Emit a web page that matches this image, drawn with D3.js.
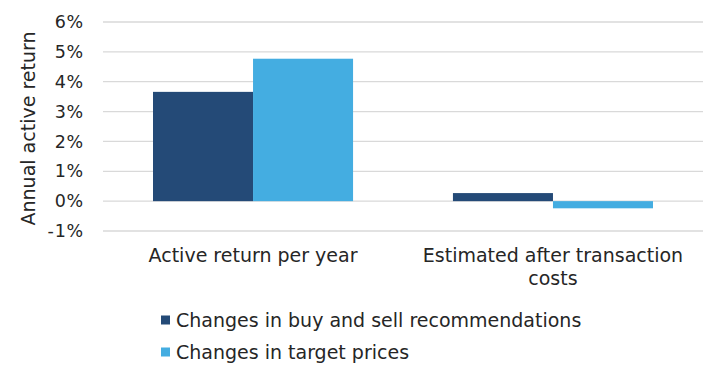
<!DOCTYPE html>
<html lang="en">
<head>
    <meta charset="UTF-8">
    <title>Annual active return</title>
    <script src="https://d3js.org/d3.v7.min.js"></script>
    <style>
        body { margin: 0; background: #fff; }
        svg { font-family: "DejaVu Sans", Verdana, sans-serif; }
        .grid line { stroke: #d9d9d9; stroke-width: 1.3; }
    </style>
</head>
<body>
    <svg width="718" height="372"></svg>

    <script>
        // Chart data
        const categories = ["Active return per year", "Estimated after transaction costs"];
        const seriesNames = ["Changes in buy and sell recommendations", "Changes in target prices"];
        const buySell = [3.66, 0.27];
        const targetPrices = [4.77, -0.24];
        const yTicks = [-1, 0, 1, 2, 3, 4, 5, 6];
        const colors = ["#244a77", "#44ade1"];

        const svg = d3.select("svg");
        const plot = { left: 103, right: 703, top: 22, bottom: 231 };
        const textColor = "#262626";

        const x0 = d3.scaleBand().domain(categories).range([plot.left, plot.right]).paddingInner(0.333).paddingOuter(0.1667);
        const x1 = d3.scaleBand().domain(seriesNames).range([0, x0.bandwidth()]);
        const y = d3.scaleLinear().domain([-1, 6]).range([plot.bottom, plot.top]);

        // Gridlines
        svg.append("g").attr("class", "grid")
            .selectAll("line").data(yTicks).join("line")
            .attr("x1", plot.left).attr("x2", plot.right)
            .attr("y1", d => y(d)).attr("y2", d => y(d));

        // Y axis labels
        const yAxis = svg.append("g")
            .attr("transform", `translate(${plot.left},0)`)
            .call(d3.axisLeft(y).tickValues(yTicks).tickFormat(d => d + "%").tickSize(0).tickPadding(19));
        yAxis.select(".domain").remove();
        yAxis.selectAll("text")
            .attr("fill", textColor)
            .style("font-size", "17.5px")
            .style("letter-spacing", "0.8px")
            .style("font-family", "'DejaVu Sans', Verdana, sans-serif");

        // Bars
        const rows = categories.map((c, i) => ({ cat: c, values: [buySell[i], targetPrices[i]] }));
        const groups = svg.append("g").selectAll("g").data(rows).join("g")
            .attr("transform", d => `translate(${x0(d.cat)},0)`);
        groups.selectAll("rect").data(d => d.values.map((v, j) => ({ name: seriesNames[j], v, j })))
            .join("rect")
            .attr("x", d => x1(d.name))
            .attr("width", x1.bandwidth())
            .attr("y", d => y(Math.max(0, d.v)))
            .attr("height", d => Math.abs(y(d.v) - y(0)))
            .attr("fill", d => colors[d.j]);

        // X axis labels (wrapped)
        const xLabelLines = [["Active return per year"], ["Estimated after transaction", "costs"]];
        categories.forEach((c, i) => {
            const cx = x0(c) + x0.bandwidth() / 2;
            const t = svg.append("text")
                .attr("x", cx)
                .attr("y", 262)
                .attr("text-anchor", "middle")
                .attr("fill", textColor)
                .attr("font-size", 19);
            xLabelLines[i].forEach((line, k) => {
                t.append("tspan").attr("x", cx).attr("dy", k === 0 ? 0 : 22.5).text(line);
            });
        });

        // Y axis title
        svg.append("text")
            .attr("transform", `translate(35,${(plot.top + plot.bottom) / 2 + 2}) rotate(-90)`)
            .attr("text-anchor", "middle")
            .attr("fill", textColor)
            .attr("font-size", 19)
            .text("Annual active return");

        // Legend
        const legend = svg.append("g").selectAll("g").data(seriesNames).join("g")
            .attr("transform", (d, i) => `translate(161,${320 + i * 32})`);
        legend.append("rect").attr("x", 0).attr("y", -4.5).attr("width", 9).attr("height", 9)
            .attr("fill", (d, i) => colors[i]);
        legend.append("text").attr("x", 15).attr("y", 6.5)
            .attr("fill", textColor).attr("font-size", 19)
            .text(d => d);
    </script>
</body>
</html>
